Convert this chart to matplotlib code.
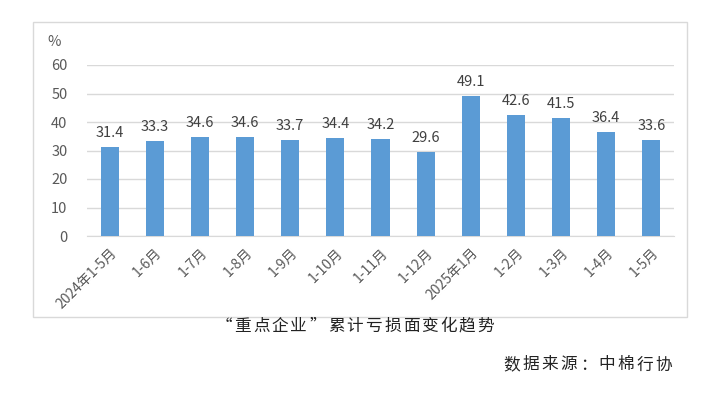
import matplotlib
matplotlib.use('Agg')
import matplotlib.pyplot as plt
from matplotlib.patches import Rectangle

plt.rcParams['font.family'] = ['Noto Sans CJK SC', 'DejaVu Sans']
plt.rcParams['axes.unicode_minus'] = False

categories = ['2024年1-5月', '1-6月', '1-7月', '1-8月', '1-9月', '1-10月', '1-11月',
              '1-12月', '2025年1月', '1-2月', '1-3月', '1-4月', '1-5月']
loss_rate = [31.4, 33.3, 34.6, 34.6, 33.7, 34.4, 34.2, 29.6, 49.1, 42.6, 41.5, 36.4, 33.6]
y_ticks = [0, 10, 20, 30, 40, 50, 60]

caption = '“重点企业”累计亏损面变化趋势'
source = '数据来源：中棉行协'

W, H = 713, 394
fig = plt.figure(figsize=(W / 100, H / 100), dpi=100)

# 外框
fig.patches.append(Rectangle((33 / W, 1 - 317 / H), (687 - 33) / W, (317 - 22) / H,
                             transform=fig.transFigure, fill=False,
                             edgecolor='#D9D9D9', linewidth=1))

ax = fig.add_axes([87 / W, 1 - 236 / H, (674 - 87) / W, (236 - 65) / H])
x = range(len(categories))
ax.bar(x, loss_rate, width=0.4, color='#5B9BD5', zorder=3)
for xi, v in zip(x, loss_rate):
    ax.annotate(f'{v:.1f}', (xi, v), xytext=(0, 5), textcoords='offset points',
                ha='center', va='bottom', fontsize=10.5, color='#404040')

ax.set_xlim(-0.5, len(categories) - 0.5)
ax.set_ylim(0, 60)
ax.set_yticks(y_ticks)
ax.set_xticks(list(x))
ax.set_xticklabels(categories, rotation=45, ha='right', rotation_mode='anchor')
ax.tick_params(axis='both', length=0, labelcolor='#595959')
ax.tick_params(axis='y', pad=14, labelsize=10.5)
ax.tick_params(axis='x', pad=7, labelsize=10)
ax.grid(axis='y', color='#D9D9D9', linewidth=1, zorder=0)
for s in ['top', 'right', 'left']:
    ax.spines[s].set_visible(False)
ax.spines['bottom'].set_color('#D9D9D9')

fig.text(54 / W, 1 - 42 / H, '%', ha='center', va='center', fontsize=10.5, color='#595959')

# 标题与来源，逐字排开模拟字距
for i, ch in enumerate(caption):
    fig.text((224 + 18.7 * i) / W, 1 - 326 / H, ch, ha='center', va='center',
             fontsize=12, color='#222222')
for i, ch in enumerate(source):
    fig.text((512 + 19.0 * i) / W, 1 - 365 / H, ch, ha='center', va='center',
             fontsize=12, color='#222222')

fig.savefig('out.png', dpi=100)
